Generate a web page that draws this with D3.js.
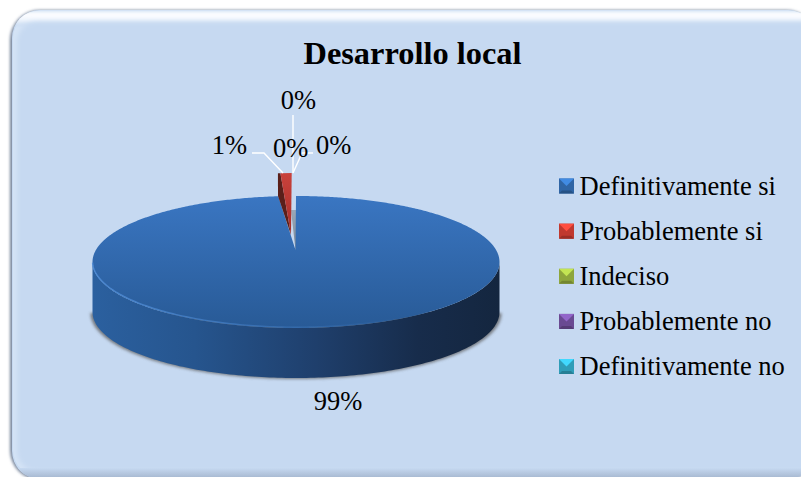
<!DOCTYPE html>
<html><head><meta charset="utf-8">
<script src="https://cdnjs.cloudflare.com/ajax/libs/d3/7.8.5/d3.min.js"></script>
<style>html,body{margin:0;padding:0;background:#fff;overflow:hidden}svg{display:block}text{font-family:"Liberation Serif",serif;fill:#000}</style>
</head><body><script>
const categories = ["Definitivamente si","Probablemente si","Indeciso","Probablemente no","Definitivamente no"];
const values = [99,1,0,0,0];
const baseColors = ["#2f65a5","#c0392f","#8ea63c","#6a4a92","#2f9db8"];
const labelText = "Desarrollo local";

const W=801,H=477;
const svg=d3.select("body").append("svg").attr("width",W).attr("height",H);
const defs=svg.append("defs");
function lin(id,x1,y1,x2,y2,stops){const g=defs.append("linearGradient").attr("id",id).attr("x1",x1).attr("y1",y1).attr("x2",x2).attr("y2",y2);
 stops.forEach(s=>{const st=g.append("stop").attr("offset",s[0]).attr("stop-color",s[1]); if(s[2]!==undefined) st.attr("stop-opacity",s[2]);}); return g;}
lin("top",0,0,0,1,[[0,"#3a76c2"],[1,"#285a96"]]);
lin("wall",0,0,1,0,[[0,"#2b609f"],[.25,"#26558e"],[.55,"#1f3f6c"],[.8,"#172c4b"],[1,"#14263f"]]);
lin("rim",0,0,1,0,[[0,"#4f8cd6",.9],[.3,"#4f8cd6",.55],[.55,"#4f8cd6",.25],[.75,"#4f8cd6",0],[1,"#4f8cd6",0]]);
lin("redface",0,0,0,1,[[0,"#c9423c"],[1,"#a52d28"]]);
lin("notch",0,0,0,1,[[0,"#9aa8b8"],[1,"#7c8894"]]);
lin("topband",0,0,0,1,[[0,"#ffffff"],[.5,"#f4f8fe"],[1,"#c6d9f1"]]);
lin("botband",0,0,0,1,[[0,"#c6d9f1"],[1,"#a3b4cc"]]);
const fl=(id,sd)=>defs.append("filter").attr("id",id).attr("x","-10%").attr("y","-10%").attr("width","120%").attr("height","120%").append("feGaussianBlur").attr("stdDeviation",sd);
fl("blur",1.5);fl("blur3",2.5);

// card
const cardB=479;
const rr=(x,y,w,h,r)=>svg.append("rect").attr("x",x).attr("y",y).attr("width",w).attr("height",h).attr("rx",r);
rr(10,10,806,cardB-9,30).attr("fill","#75839a").attr("filter","url(#blur)");
rr(12,10,804,cardB-10,28).attr("fill","#c6d9f1");
rr(13,10.5,803,cardB-12,28).attr("fill","#d5e4f6");
const clip=defs.append("clipPath").attr("id","cardclip");
clip.append("rect").attr("x",12).attr("y",10).attr("width",804).attr("height",cardB-10).attr("rx",28);
const inner=svg.append("g").attr("clip-path","url(#cardclip)");
inner.append("rect").attr("x",12).attr("y",12).attr("width",804).attr("height",14).attr("fill","url(#topband)").attr("filter","url(#blur)");
inner.append("rect").attr("x",17).attr("y",22).attr("width",810).attr("height",cardB-30).attr("rx",20).attr("fill","#c6d9f1").attr("filter","url(#blur3)");
inner.append("rect").attr("x",12).attr("y",468).attr("width",804).attr("height",11).attr("fill","url(#botband)");

// pie geometry
const cx=296,cy=262,rx=203.5,ry=66,depth=50,apexY=250;
const pie=d3.pie().sort(null).value(d=>d).startAngle(-2*Math.PI*values[1]/100).endAngle(2*Math.PI*(1-values[1]/100));
const arcs=pie(values);
const blue=arcs[0];
const px=(a,ox=0)=>cx+ox+rx*Math.sin(a), py=(a,oy=0)=>cy+oy-ry*Math.cos(a);
const notch=1.4*Math.PI/180;
const blueEnd=blue.endAngle-blue.startAngle-notch;
const arcRange=d3.range(0,blueEnd,0.01).concat([blueEnd]);
const line=d3.line().x(d=>d[0]).y(d=>d[1]);

// shadow
const wallAngles=d3.range(Math.PI/2,3*Math.PI/2+0.001,0.02);
const wallPts=wallAngles.map(a=>[px(a),py(a)]).concat(wallAngles.slice().reverse().map(a=>[px(a),py(a)+depth]));
const shadowPts=wallAngles.map(a=>[cx+(rx+2)*Math.sin(a),py(a)+depth+1]);
svg.append("path").attr("d",line(shadowPts)+"Z").attr("fill","#5a5a5a").attr("opacity",.75).attr("filter","url(#blur)");
// wall
svg.append("path").attr("d",line(wallPts)+"Z").attr("fill","url(#wall)");
// grey notch interior
svg.append("path").attr("d",line([[cx-5,py(0)+14],[cx,py(0)+14],[cx,apexY],[cx-0.5,apexY]])+"Z").attr("fill","url(#notch)");
// blue top
const topPts=arcRange.map(a=>[px(a),py(a)]);
topPts.push([cx-0.5,apexY]);
svg.append("path").attr("d",line(topPts)+"Z").attr("fill","url(#top)");
// rim highlight
const rimAngles=d3.range(Math.PI/2+0.02,3*Math.PI/2-0.02,0.02).reverse();
svg.append("path").attr("d",line(rimAngles.map(a=>[px(a),py(a)-0.8]))).attr("fill","none").attr("stroke","url(#rim)").attr("stroke-width",1.4);

// red exploded slice
const rdx=-4.3,rdy=-23;
const rA=2*Math.PI*values[1]/100;
const rTop=[[px(0,rdx),py(0,rdy)],[px(-rA,rdx)+1.5,py(-rA,rdy)],[291,235]];
svg.append("path").attr("d",line([[px(-rA,rdx)-1,py(-rA,rdy)],[px(-rA,rdx)+1.5,py(-rA,rdy)],[291,235],[278,196]])+"Z").attr("fill","#5a1f1a");
svg.append("path").attr("d",line(rTop)+"Z").attr("fill","url(#redface)");

// leaders
const leaders=[[[293,115],[293,173]],[[252,153],[264,153],[283,173]],[[313,153],[302,153],[293,173]]];
leaders.forEach(l=>svg.append("path").attr("d",line(l)).attr("fill","none").attr("stroke","#fff").attr("stroke-width",1.4));

// text
const fmt=d3.format(".0%");
svg.append("text").attr("x",412.5).attr("y",64).attr("text-anchor","middle").attr("font-size",32.4).attr("font-weight","bold").text(labelText);
const labelPos=[[338,410],[229.5,154],[290.7,157],[298.3,109],[333.7,154]];
values.forEach((v,i)=>svg.append("text").attr("x",labelPos[i][0]).attr("y",labelPos[i][1]).attr("text-anchor","middle").attr("font-size",26.5).text(fmt(v/100)));

// legend
const legendY=d3.scalePoint().domain(categories).range([186,366.5]);
categories.forEach((c,i)=>{
 const y=legendY(c),x0=559,s=15,t=y-7.5,col=d3.color(baseColors[i]);
 const g=svg.append("g");
 g.append("rect").attr("x",x0).attr("y",t).attr("width",s).attr("height",s).attr("fill",col.formatHex());
 g.append("path").attr("d",line([[x0,t],[x0+s,t],[x0+s/2,t+s/2]])+"Z").attr("fill",col.brighter(.9).formatHex());
 g.append("path").attr("d",line([[x0,t+s],[x0+s,t+s],[x0+s-3,t+s-3],[x0+3,t+s-3]])+"Z").attr("fill",col.darker(.6).formatHex());
 svg.append("text").attr("x",579.5).attr("y",y+8.5).attr("font-size",26.5).text(c);
});
</script></body></html>
